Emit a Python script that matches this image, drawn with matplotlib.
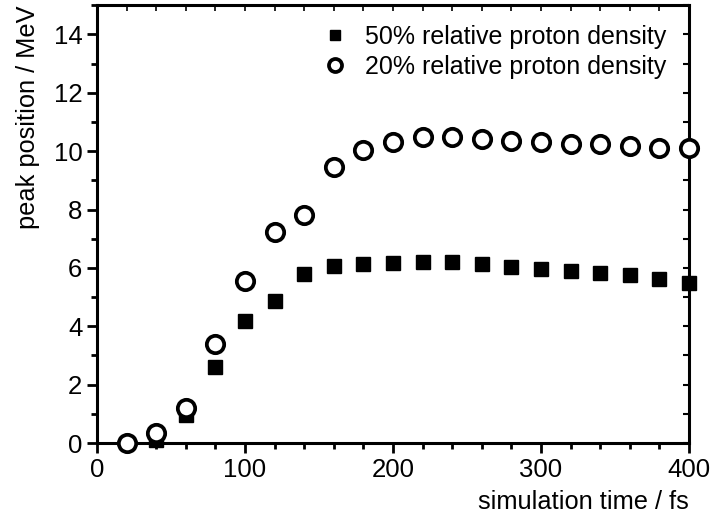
import matplotlib

matplotlib.use("Agg")
import matplotlib.pyplot as plt
from matplotlib.ticker import MultipleLocator

plt.rcParams["font.family"] = ["Liberation Sans", "DejaVu Sans"]

time_fs = [20, 40, 60, 80, 100, 120, 140, 160, 180, 200,
           220, 240, 260, 280, 300, 320, 340, 360, 380, 400]
peak_50 = [0.0, 0.1, 0.96, 2.62, 4.19, 4.88, 5.79, 6.05, 6.15, 6.18,
           6.2, 6.2, 6.15, 6.03, 5.95, 5.9, 5.84, 5.74, 5.62, 5.48]
peak_20 = [0.01, 0.33, 1.19, 3.4, 5.56, 7.24, 7.82, 9.46, 10.05, 10.3,
           10.47, 10.47, 10.4, 10.35, 10.3, 10.24, 10.24, 10.19, 10.12, 10.12]
labels = ["50% relative proton density", "20% relative proton density"]

fig = plt.figure(figsize=(7.1, 5.22), dpi=100)
ax = fig.add_axes([0.1366, 0.1513, 0.8338, 0.8387])

ax.plot(time_fs, peak_50, linestyle="none", marker="s", markersize=10.5,
        color="black", label=labels[0], clip_on=False, zorder=3)
ax.plot(time_fs, peak_20, linestyle="none", marker="o", markersize=12.5,
        markerfacecolor="white", markeredgecolor="black", markeredgewidth=2.7,
        label=labels[1], clip_on=False, zorder=4)

ax.set_xlim(0, 400)
ax.set_ylim(0, 15)
ax.xaxis.set_major_locator(MultipleLocator(100))
ax.xaxis.set_minor_locator(MultipleLocator(20))
ax.yaxis.set_major_locator(MultipleLocator(2))
ax.yaxis.set_minor_locator(MultipleLocator(1))

for side in ax.spines.values():
    side.set_linewidth(2.2)
ax.tick_params(which="both", direction="out", width=2, labelsize=18.5,
               top=False, right=False)
ax.tick_params(which="major", length=7)
ax.tick_params(which="minor", length=4.5)

sec_x = ax.secondary_xaxis("top")
sec_x.xaxis.set_major_locator(MultipleLocator(20))
sec_x.tick_params(direction="in", length=4, width=1.2, labeltop=False)
sec_y = ax.secondary_yaxis("right")
sec_y.yaxis.set_major_locator(MultipleLocator(1))
sec_y.tick_params(direction="in", length=4, width=1.5, labelright=False)

ax.set_xlabel("simulation time / fs", fontsize=18.3, loc="right", labelpad=6)
ax.set_ylabel("peak position / MeV", fontsize=18.3, loc="top", labelpad=10)

ax.legend(loc="upper right", frameon=False, fontsize=18, markerscale=0.75,
          handletextpad=0.2, borderaxespad=0.38, labelspacing=0.25,
          bbox_to_anchor=(0.995, 1.0))

fig.savefig("out.png", dpi=100)
plt.close(fig)
